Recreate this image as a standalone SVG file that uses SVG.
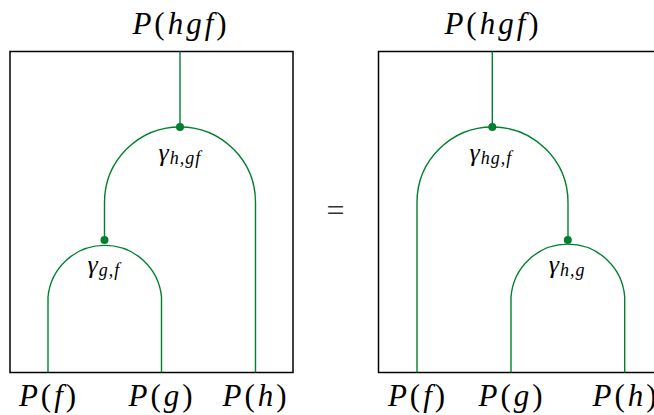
<svg xmlns="http://www.w3.org/2000/svg" width="654" height="415" viewBox="0 0 654 415">
<style>
.box{fill:none;stroke:#000;stroke-width:1.5}
.w{fill:none;stroke:#00802f;stroke-width:1.4}
.d{fill:#00802f}
.i{font-style:italic}
.lab{letter-spacing:3px}
.g{letter-spacing:1px}
</style>
<g id="left-box"><rect class="box" x="10" y="51.5" width="283" height="321"/></g>
<g id="right-box"><rect class="box" x="378.5" y="51.5" width="300" height="321"/></g>
<g id="connectors">
<path class="w" d="M180 51.5V127"/>
<path class="w" d="M104.5 240V202.5A75.5 75.5 0 0 1 255.5 202.5V372.5"/>
<path class="w" d="M48 372.5V297A57 57 0 0 1 161.5 297V372.5"/>
<path class="w" d="M492.3 51.5V127"/>
<path class="w" d="M417 372.5V202.5A75.5 75.5 0 0 1 568 202.5V240"/>
<path class="w" d="M511 372.5V297A57 57 0 0 1 624.7 297V372.5"/>
</g>
<g font-family="Liberation Serif, DejaVu Serif, serif" fill="#000">
<g id="node-gamma-h-gf" font-size="26" font-style="italic"><circle class="d" cx="180" cy="127" r="4"/><text class="g" x="180" y="161" text-anchor="middle">γ<tspan font-size="18" dy="3">h,gf</tspan></text></g>
<g id="node-gamma-g-f" font-size="26" font-style="italic"><circle class="d" cx="104.5" cy="240" r="4"/><text class="g" x="104" y="273" text-anchor="middle">γ<tspan font-size="18" dy="3">g,f</tspan></text></g>
<g id="node-gamma-hg-f" font-size="26" font-style="italic"><circle class="d" cx="492.3" cy="127" r="4"/><text class="g" x="491" y="161" text-anchor="middle">γ<tspan font-size="18" dy="3">hg,f</tspan></text></g>
<g id="node-gamma-h-g" font-size="26" font-style="italic"><circle class="d" cx="567.8" cy="240" r="4"/><text class="g" x="567" y="273" text-anchor="middle">γ<tspan font-size="18" dy="3">h,g</tspan></text></g>
<g id="labels" font-size="31">
<text class="lab" x="181" y="34" text-anchor="middle"><tspan class="i">P</tspan>(<tspan class="i">hgf</tspan>)</text>
<text class="lab" x="49" y="406" text-anchor="middle"><tspan class="i">P</tspan>(<tspan class="i">f</tspan>)</text>
<text class="lab" x="162" y="406" text-anchor="middle"><tspan class="i">P</tspan>(<tspan class="i">g</tspan>)</text>
<text class="lab" x="256" y="406" text-anchor="middle"><tspan class="i">P</tspan>(<tspan class="i">h</tspan>)</text>
<text class="lab" x="493" y="34" text-anchor="middle"><tspan class="i">P</tspan>(<tspan class="i">hgf</tspan>)</text>
<text class="lab" x="418" y="406" text-anchor="middle"><tspan class="i">P</tspan>(<tspan class="i">f</tspan>)</text>
<text class="lab" x="512" y="406" text-anchor="middle"><tspan class="i">P</tspan>(<tspan class="i">g</tspan>)</text>
<text class="lab" x="626" y="406" text-anchor="middle"><tspan class="i">P</tspan>(<tspan class="i">h</tspan>)</text>
<text x="335.5" y="221" text-anchor="middle" font-size="32" fill="#333">=</text>
</g>
</g>
</svg>
